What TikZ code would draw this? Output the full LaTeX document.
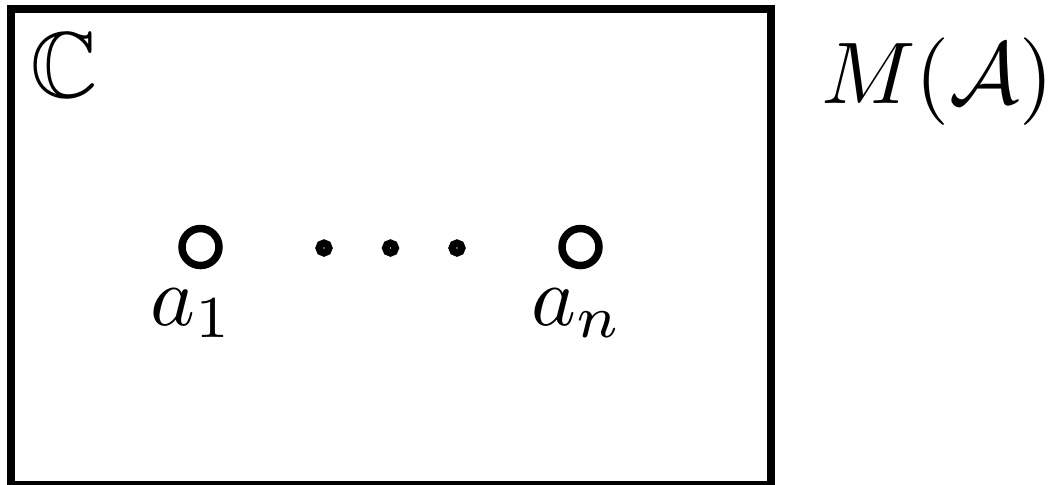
\documentclass[tikz,border=0pt]{standalone}
\usepackage{amssymb}
\begin{document}
\begin{tikzpicture}[x=0.11765pt,y=-0.11765pt,
  pen/.style={line width=0.88pt},
  puncture/.style={pen,draw=black,fill=white},
  dotmark/.style={pen,draw=black},
  lbl/.style={inner sep=0pt,outer sep=0pt}]
\useasboundingbox (0,0) rectangle (1052,484);
\draw[pen] (11,9) rectangle (771,485);
\node[lbl,anchor=base west,scale=1.1] (C) at (31,97) {$\mathbb{C}$};
\node[lbl,anchor=base west,scale=1.03] (M) at (821,103) {$M(\mathcal{A})$};
\draw[puncture] (200.5,247) circle[radius=18.5] coordinate (p1);
\draw[puncture] (580.5,247) circle[radius=18.5] coordinate (pn);
\draw[dotmark] (324,248) circle[radius=4.8] coordinate (d1);
\draw[dotmark] (390.5,248) circle[radius=4.8] coordinate (d2);
\draw[dotmark] (457,248) circle[radius=4.8] coordinate (d3);
\node[lbl,anchor=base] (a1) at (192,325) {$a_1$};
\node[lbl,anchor=base] (an) at (577,325) {$a_n$};
\end{tikzpicture}
\end{document}
